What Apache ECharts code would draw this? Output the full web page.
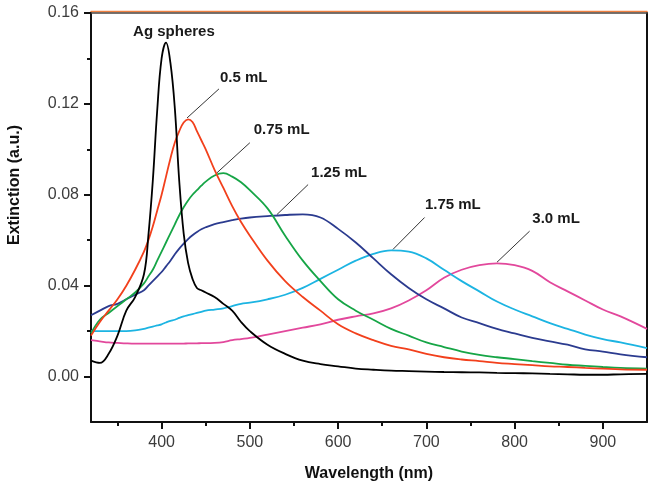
<!DOCTYPE html>
<html>
<head>
<meta charset="utf-8">
<script src="https://cdn.jsdelivr.net/npm/echarts@6/dist/echarts.min.js"></script>
<style>
  html, body { margin: 0; padding: 0; background: #fff; }
  #chart { width: 656px; height: 490px; }
</style>
</head>
<body>
<div id="chart"></div>
<script>
// wavelengths (nm) shared by every spectrum
const wavelength = [320, 330, 340, 350, 360, 370, 380, 385, 390, 395, 400, 405, 410, 415, 420, 425, 430, 435, 440, 445, 450,
  460, 470, 480, 490, 500, 520, 540, 560, 580, 600, 620, 640, 660, 680, 700, 720, 740, 760, 780, 800, 820, 840, 860, 880, 900, 920, 950]

const agSpheres = [0.007, 0.006, 0.010, 0.018, 0.029, 0.035, 0.045, 0.062, 0.086, 0.117, 0.140, 0.147, 0.138, 0.118, 0.086, 0.063, 0.050, 0.043, 0.039, 0.038, 0.037,
  0.035, 0.032, 0.029, 0.024, 0.020, 0.014, 0.010, 0.007, 0.0055, 0.0045, 0.0035, 0.003, 0.0026, 0.0024, 0.0022, 0.002, 0.0019, 0.0018, 0.0016, 0.0015, 0.0014, 0.0012, 0.001, 0.0008, 0.0008, 0.001, 0.0012]

const ml050 = [0.018, 0.024, 0.029, 0.034, 0.040, 0.047, 0.055, 0.060, 0.066, 0.073, 0.080, 0.088, 0.096, 0.103, 0.108, 0.1118, 0.1132, 0.112, 0.108, 0.104, 0.100,
  0.091, 0.083, 0.075, 0.068, 0.062, 0.051, 0.042, 0.035, 0.029, 0.023, 0.019, 0.016, 0.0135, 0.012, 0.010, 0.0085, 0.0075, 0.0068, 0.006, 0.0055, 0.005, 0.0045, 0.0042, 0.0038, 0.0035, 0.0032, 0.003]

const ml075 = [0.019, 0.025, 0.028, 0.031, 0.034, 0.037, 0.041, 0.044, 0.047, 0.051, 0.055, 0.059, 0.063, 0.067, 0.071, 0.0745, 0.0775, 0.080, 0.082, 0.084, 0.0858,
  0.0885, 0.0895, 0.088, 0.0855, 0.082, 0.074, 0.062, 0.051, 0.042, 0.034, 0.029, 0.025, 0.021, 0.018, 0.015, 0.013, 0.011, 0.0095, 0.0085, 0.0077, 0.0068, 0.006, 0.0052, 0.0047, 0.0042, 0.0038, 0.0035]

const ml125 = [0.027, 0.029, 0.031, 0.032, 0.034, 0.036, 0.038, 0.040, 0.042, 0.044, 0.046, 0.0485, 0.051, 0.0538, 0.0563, 0.0585, 0.0605, 0.0622, 0.0636, 0.0648, 0.0657,
  0.0671, 0.068, 0.0688, 0.0695, 0.070, 0.0706, 0.0711, 0.0714, 0.070, 0.065, 0.059, 0.052, 0.045, 0.039, 0.034, 0.030, 0.026, 0.0235, 0.021, 0.019, 0.017, 0.0155, 0.014, 0.012, 0.011, 0.0098, 0.0085]

const ml175 = [0.020, 0.020, 0.020, 0.020, 0.020, 0.0203, 0.021, 0.0215, 0.022, 0.0225, 0.023, 0.0238, 0.0245, 0.025, 0.0258, 0.0265, 0.027, 0.0275, 0.028, 0.0285, 0.029,
  0.0295, 0.030, 0.031, 0.032, 0.0325, 0.034, 0.036, 0.039, 0.043, 0.047, 0.051, 0.054, 0.0555, 0.055, 0.052, 0.047, 0.042, 0.0375, 0.033, 0.0295, 0.0265, 0.0235, 0.021, 0.0185, 0.0165, 0.015, 0.0125]

const ml300 = [0.016, 0.0155, 0.015, 0.0148, 0.0146, 0.0145, 0.0145, 0.0145, 0.0145, 0.0145, 0.0145, 0.0145, 0.0145, 0.0145, 0.0145, 0.0145, 0.0146, 0.0146, 0.0146, 0.0147, 0.0147,
  0.0148, 0.0152, 0.016, 0.0165, 0.017, 0.0185, 0.020, 0.0215, 0.023, 0.025, 0.0265, 0.0278, 0.030, 0.0335, 0.038, 0.0435, 0.047, 0.049, 0.0498, 0.049, 0.0465, 0.0415, 0.0375, 0.0335, 0.0295, 0.0265, 0.021]

const xMajorTicks = [400, 500, 600, 700, 800, 900]
const xMinorTicks = [350, 450, 550, 650, 750, 850]
const yMajorTicks = [0, 0.04, 0.08, 0.12, 0.16]
const yMinorTicks = [0.02, 0.06, 0.10, 0.14]

// label text, label centre [nm, value], leader line from -> to
const annotations = [
  { text: 'Ag spheres', at: [414, 0.1517], from: null, to: null },
  { text: '0.5 mL', at: [493, 0.1315], from: [465, 0.1266], to: [428.8, 0.1138] },
  { text: '0.75 mL', at: [536, 0.1085], from: [500, 0.1029], to: [462.8, 0.0897] },
  { text: '1.25 mL', at: [601, 0.0898], from: [566, 0.0845], to: [530.7, 0.0713] },
  { text: '1.75 mL', at: [730, 0.0757], from: [698, 0.0700], to: [662, 0.0559] },
  { text: '3.0 mL', at: [847, 0.0693], from: [817, 0.0640], to: [780, 0.0503] }
]

const font = "'Liberation Sans', Arial, sans-serif"

function spectrum(name, values, color) {
  return {
    name: name,
    type: 'line',
    xAxisIndex: 0,
    yAxisIndex: 0,
    data: wavelength.map((w, i) => [w, values[i]]),
    showSymbol: false,
    smooth: 0.4,
    lineStyle: { color: color, width: 1.8 },
    itemStyle: { color: color },
    silent: true
  }
}

let chart = echarts.init(document.getElementById('chart'))

chart.setOption({
  animation: false,
  grid: { left: 91, right: 9, top: 13, bottom: 68 },
  xAxis: [
    {
      type: 'value', position: 'bottom', min: 320, max: 950,
      name: 'Wavelength (nm)', nameLocation: 'middle', nameGap: 44,
      nameTextStyle: { fontFamily: font, fontSize: 16, fontWeight: 'bold', color: '#111' },
      axisLine: { onZero: false, lineStyle: { color: '#111', width: 2 } },
      axisTick: { show: true, length: 7, inside: false, customValues: xMajorTicks, lineStyle: { color: '#111', width: 2 } },
      axisLabel: { customValues: xMajorTicks, margin: 13, fontFamily: font, fontSize: 16, color: '#3c3c3c' },
      splitLine: { show: false }
    },
    {
      type: 'value', position: 'bottom', min: 320, max: 950,
      axisLine: { show: false, onZero: false },
      axisTick: { show: true, inside: false, length: 4, customValues: xMinorTicks, lineStyle: { color: '#111', width: 2 } },
      axisLabel: { show: false },
      splitLine: { show: false }
    },
    {
      type: 'value', position: 'top', min: 320, max: 950,
      axisLine: { onZero: false, lineStyle: { color: '#4a4440', width: 1.5, shadowColor: '#f08040', shadowOffsetY: -1.5, shadowBlur: 0 } },
      axisTick: { show: false },
      axisLabel: { show: false },
      splitLine: { show: false }
    }
  ],
  yAxis: [
    {
      type: 'value', position: 'left', min: -0.02, max: 0.16,
      axisLine: { show: true, onZero: false, lineStyle: { color: '#111', width: 2 } },
      axisTick: { show: true, length: 7, customValues: yMajorTicks, lineStyle: { color: '#111', width: 2 } },
      axisLabel: {
        customValues: yMajorTicks, margin: 12, fontFamily: font, fontSize: 16, color: '#3c3c3c',
        formatter: v => v.toFixed(2)
      },
      splitLine: { show: false }
    },
    {
      type: 'value', position: 'left', min: -0.02, max: 0.16,
      axisLine: { show: false, onZero: false },
      axisTick: { show: true, inside: false, length: 4, customValues: yMinorTicks, lineStyle: { color: '#111', width: 2 } },
      axisLabel: { show: false },
      splitLine: { show: false }
    },
    {
      type: 'value', position: 'right', min: -0.02, max: 0.16,
      axisLine: { show: true, onZero: false, lineStyle: { color: '#111', width: 2 } },
      axisTick: { show: false },
      axisLabel: { show: false },
      splitLine: { show: false }
    }
  ],
  series: [
    spectrum('3.0 mL', ml300, '#e2489c'),
    spectrum('1.75 mL', ml175, '#1cb4e2'),
    spectrum('1.25 mL', ml125, '#2b3b8f'),
    spectrum('0.75 mL', ml075, '#16a546'),
    spectrum('0.5 mL', ml050, '#f2401c'),
    spectrum('Ag spheres', agSpheres, '#000000')
  ]
})

// annotation labels and leader lines, placed in data coordinates
let graphics = [{
  type: 'text', x: 15, y: 185, rotation: Math.PI / 2,
  style: { text: 'Extinction (a.u.)', font: 'bold 16px ' + font, fill: '#111', align: 'center', verticalAlign: 'middle' }
}]
annotations.forEach(a => {
  let p = chart.convertToPixel({ gridIndex: 0 }, a.at)
  graphics.push({
    type: 'text', x: p[0], y: p[1],
    style: { text: a.text, font: 'bold 15px ' + font, fill: '#1a1a1a', align: 'center', verticalAlign: 'middle' }
  })
  if (a.from) {
    let p1 = chart.convertToPixel({ gridIndex: 0 }, a.from)
    let p2 = chart.convertToPixel({ gridIndex: 0 }, a.to)
    graphics.push({
      type: 'line',
      shape: { x1: p1[0], y1: p1[1], x2: p2[0], y2: p2[1] },
      style: { stroke: '#333', lineWidth: 1 }
    })
  }
})
chart.setOption({ graphic: graphics })
</script>
</body>
</html>
